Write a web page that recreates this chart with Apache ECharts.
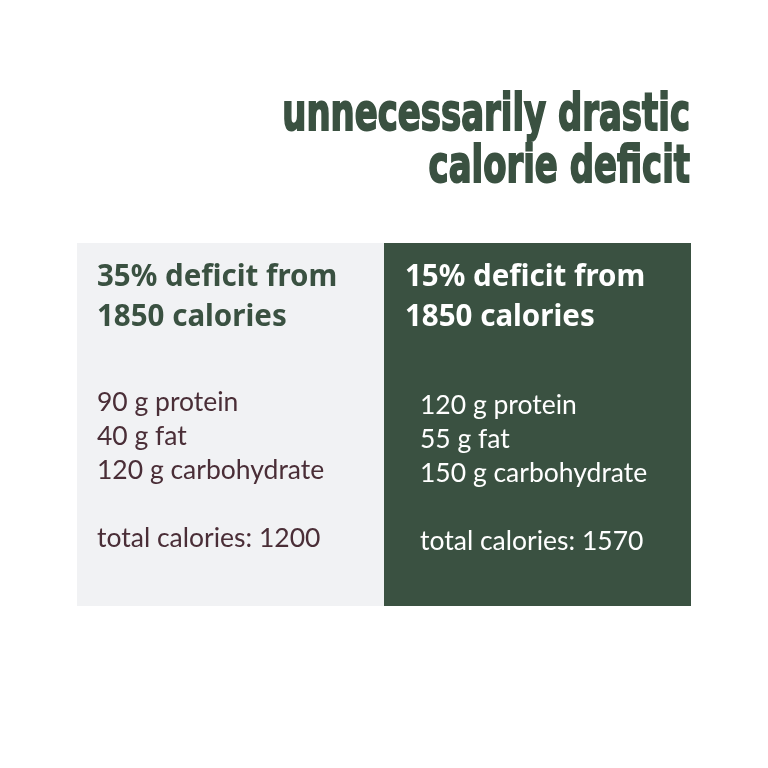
<!DOCTYPE html>
<html>
<head>
<meta charset="utf-8">
<script src="https://cdn.jsdelivr.net/npm/echarts@6/dist/echarts.min.js"></script>
<style>
  html, body { margin: 0; padding: 0; background: #ffffff; }
  #main { width: 768px; height: 768px; }
</style>
</head>
<body>
<div id="main"></div>
<script>
// chart data
var titleLines = ['unnecessarily drastic', 'calorie deficit'];
var baseCalories = 1850;
var deficits = [35, 15];
var protein = [90, 120];
var fat = [40, 55];
var carbs = [120, 150];
var totals = [1200, 1570];

var myChart = echarts.init(document.getElementById('main'));

var green = '#3a5141';
var panelBg = ['#f1f2f4', green];
var headColor = [green, '#ffffff'];
var bodyColor = ['#4a2e37', '#ffffff'];
var panelX = [77, 384];
var headX = [97, 405];
var bodyX = [97, 420];
var bodyDy = [0, 3];

var elements = [];

// condensed heavy title: squeeze DejaVu bold horizontally
titleLines.forEach(function (t, i) {
	elements.push({
		type: 'text',
		x: 690,
		y: 91 + i * 52,
		scaleX: 0.665,
		originX: 0,
		style: {
			text: t,
			fill: green,
			stroke: green,
			lineWidth: 2,
			font: 'bold 51px "DejaVu Sans", sans-serif',
			textAlign: 'right'
		}
	});
});

deficits.forEach(function (d, i) {
	elements.push({
		type: 'rect',
		shape: { x: panelX[i], y: 243, width: 307, height: 363 },
		style: { fill: panelBg[i] }
	});
	elements.push({
		type: 'text',
		x: headX[i],
		y: 258,
		style: {
			text: d + '% deficit from\n' + baseCalories + ' calories',
			fill: headColor[i],
			font: 'bold 29.5px "Noto Sans", sans-serif',
			lineHeight: 40
		}
	});
	elements.push({
		type: 'text',
		x: bodyX[i],
		y: 385 + bodyDy[i],
		style: {
			text: protein[i] + ' g protein\n' + fat[i] + ' g fat\n' + carbs[i] + ' g carbohydrate\n\ntotal calories: ' + totals[i],
			fill: bodyColor[i],
			font: '26.5px Lato, "Noto Sans", sans-serif',
			lineHeight: 34
		}
	});
});

var option = {
	backgroundColor: '#ffffff',
	animation: false,
	graphic: { elements: elements }
};
myChart.setOption(option);
</script>
</body>
</html>
